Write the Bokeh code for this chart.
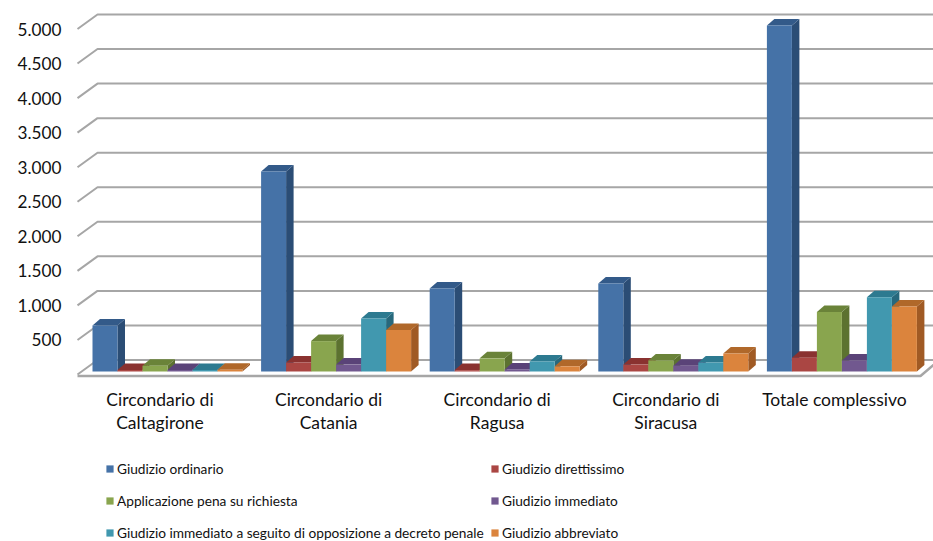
from bokeh.plotting import figure
from bokeh.embed import file_html
from bokeh.resources import INLINE
from bokeh.models import Range1d, FixedTicker, Legend, LegendItem, LinearAxis

categories = ["Circondario di\nCaltagirone", "Circondario di\nCatania", "Circondario di\nRagusa",
              "Circondario di\nSiracusa", "Totale complessivo"]
series_names = ["Giudizio ordinario", "Giudizio direttissimo", "Applicazione pena su richiesta",
                "Giudizio immediato", "Giudizio immediato a seguito di opposizione a decreto penale",
                "Giudizio abbreviato"]
ordinario = [666, 2894, 1200, 1275, 5008]
direttissimo = [20, 130, 20, 100, 200]
applicazione = [85, 440, 190, 160, 860]
immediato = [20, 100, 30, 85, 160]
opposizione = [20, 767, 145, 130, 1075]
abbreviato = [25, 600, 75, 260, 940]
tick_values = [500, 1000, 1500, 2000, 2500, 3000, 3500, 4000, 4500, 5000]
tick_labels = ["500", "1.000", "1.500", "2.000", "2.500", "3.000", "3.500", "4.000", "4.500", "5.000"]

front_cols = ["#4572A7", "#AA4643", "#89A54E", "#71588F", "#4198AF", "#DB843D"]
top_cols = ["#335A89", "#8A3230", "#6A8339", "#5A4378", "#2D7A90", "#B0682A"]
side_cols = ["#2B4D75", "#7A2E2C", "#5C7230", "#4B3866", "#27687C", "#A05A24"]
all_series = [ordinario, direttissimo, applicazione, immediato, opposizione, abbreviato]

W, H = 933, 541
PXX, PXY = 168.6, 0.0691       # px per category, px per unit
X0, Y0 = 159.5, 374            # frame-pixel position of category 0 / value 0
dx = lambda px: px / PXX
dy = lambda px: px / PXY

p = figure(width=W, height=H, output_backend="svg", toolbar_location=None,
           x_axis_type=None, y_axis_type=None, min_border=0, outline_line_color=None,
           x_range=Range1d(-X0 / PXX, (W - X0) / PXX),
           y_range=Range1d(-(H - Y0) / PXY, Y0 / PXY))
p.grid.visible = False
p.background_fill_color = "white"
p.border_fill_color = "white"

# walls and floor
GRID = "#A6A6A6"
left_front = dx(77 - X0)
left_back = dx(97 - X0)
right_end = dx(945 - X0)
back_off = dy(14.5)
xs, ys = [], []
for v in [0] + tick_values:
    xs.append([left_front, left_back, right_end])
    ys.append([v, v + back_off, v + back_off])
p.multi_line(xs, ys, line_color=GRID, line_width=2)
p.line([left_front, dx(920 - X0), dx(936 - X0)], [dy(-1.5), dy(-1.5), dy(12)],
       line_color=GRID, line_width=2.5)

# bars
bar_w = dx(25)
base = dy(3)
depth_x, depth_y = dx(7.5), dy(6.5)
front_renderers = []
for s, vals in enumerate(all_series):
    lefts = [i + dx(7.5) + (s - 3) * bar_w for i in range(len(vals))]
    rights = [l + bar_w for l in lefts]
    tops = [base + v for v in vals]
    side_x = [[r, r + depth_x, r + depth_x, r] for r in rights]
    side_y = [[base, base + depth_y, t + depth_y, t] for t in tops]
    top_x = [[l, l + depth_x, r + depth_x, r] for l, r in zip(lefts, rights)]
    top_y = [[t, t + depth_y, t + depth_y, t] for t in tops]
    p.patches(side_x, side_y, fill_color=side_cols[s], line_color=None)
    p.patches(top_x, top_y, fill_color=top_cols[s], line_color=None)
    front_renderers.append(p.quad(left=lefts, right=rights, bottom=[base] * len(vals), top=tops,
                                  fill_color=front_cols[s], line_color=None))

# axes
FONT = "Lato"
yax = LinearAxis(fixed_location=dx(70 - X0))
yax.ticker = FixedTicker(ticks=tick_values)
yax.major_label_overrides = dict(zip(tick_values, tick_labels))
yax.axis_line_color = None
yax.major_tick_line_color = None
yax.minor_tick_line_color = None
yax.major_label_text_font = FONT
yax.major_label_text_font_size = "17.2px"
yax.major_label_text_color = "#111111"
yax.major_label_standoff = 3
p.add_layout(yax, "left")

xax = LinearAxis(fixed_location=0)
xax.ticker = FixedTicker(ticks=list(range(len(categories))))
xax.major_label_overrides = dict(enumerate(categories))
xax.axis_line_color = None
xax.major_tick_line_color = None
xax.minor_tick_line_color = None
xax.major_label_text_font = FONT
xax.major_label_text_font_size = "17.5px"
xax.major_label_text_color = "#111111"
xax.major_label_text_line_height = 1.12
xax.major_label_standoff = 8
p.add_layout(xax, "below")

for start, x_pos in [(0, 105), (1, 490)]:
    legend = Legend(
        items=[LegendItem(label=series_names[k], renderers=[front_renderers[k]])
               for k in range(start, len(series_names), 2)],
        orientation="vertical", location=(x_pos, 0), margin=0, padding=0,
        border_line_color=None, background_fill_alpha=0,
        glyph_width=9, glyph_height=9, label_standoff=3, spacing=15, label_height=14,
        label_text_font=FONT, label_text_font_size="13.7px", label_text_color="#111111",
    )
    p.add_layout(legend, "center")

open("out.html", "w").write(file_html(p, INLINE))
